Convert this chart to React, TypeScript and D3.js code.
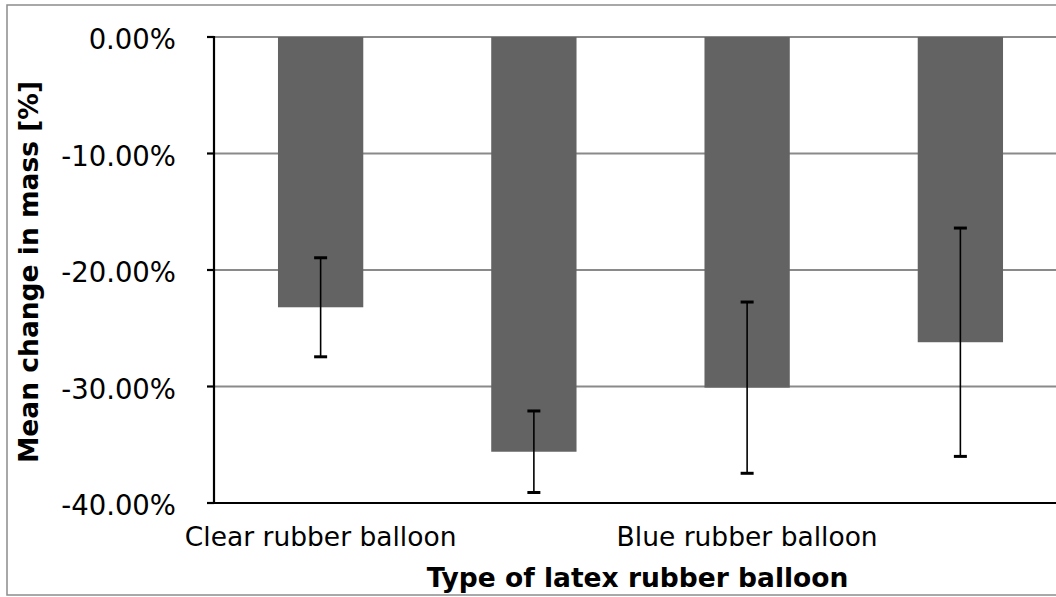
import React from "react";
import * as d3 from "d3";

const categories = ["Clear rubber balloon", "", "Blue rubber balloon", ""];
const meanChange = [-23.2, -35.6, -30.1, -26.2];
const errorAmount = [4.25, 3.5, 7.35, 9.8];
const yTicks = [0, -10, -20, -30, -40];
const yTitle = "Mean change in mass [%]";
const xTitle = "Type of latex rubber balloon";

const W = 1056;
const H = 597;
const FONT = "'DejaVu Sans', Verdana, sans-serif";
const FS = 26.5;

export default function App() {
  const left = 214;
  const right = 1067;
  const top = 37;
  const bottom = 503;
  const idx = categories.map((_, i) => i);
  const x = d3
    .scaleBand<number>()
    .domain(idx)
    .range([left, right])
    .paddingInner(0.6)
    .paddingOuter(0.3);
  const y = d3.scaleLinear().domain([-40, 0]).range([bottom, top]);
  const fmt = (v: number) => d3.format(".2f")(v).replace("\u2212", "-") + "%";
  const bw = x.bandwidth();
  const capW = 13;

  return (
    <svg
      width={W}
      height={H}
      style={{ position: "absolute", left: 0, top: 0, background: "#fff" }}
    >
      <rect x={7} y={5} width={1100} height={590} fill="#fff" stroke="#8c8c8c" strokeWidth={1.5} />
      {yTicks.map((t) => (
        <line key={"g" + t} x1={left} x2={right} y1={y(t)} y2={y(t)} stroke="#8a8a8a" strokeWidth={2} />
      ))}
      {meanChange.map((v, i) => (
        <rect key={"b" + i} x={x(i)} y={y(0)} width={bw} height={y(v) - y(0)} fill="#636363" />
      ))}
      {meanChange.map((v, i) => {
        const cx = (x(i) as number) + bw / 2;
        const y1 = y(v + errorAmount[i]);
        const y2 = y(v - errorAmount[i]);
        return (
          <g key={"e" + i}>
            <line x1={cx} x2={cx} y1={y1} y2={y2} stroke="#000" strokeWidth={1.6} />
            <line x1={cx - capW / 2} x2={cx + capW / 2} y1={y1} y2={y1} stroke="#000" strokeWidth={3} />
            <line x1={cx - capW / 2} x2={cx + capW / 2} y1={y2} y2={y2} stroke="#000" strokeWidth={3} />
          </g>
        );
      })}
      <line x1={left} x2={left} y1={top - 1} y2={bottom + 1} stroke="#000" strokeWidth={2.2} />
      <line x1={left - 7} x2={right} y1={bottom} y2={bottom} stroke="#000" strokeWidth={2.2} />
      {yTicks.map((t) => (
        <line key={"t" + t} x1={left - 7} x2={left} y1={y(t)} y2={y(t)} stroke="#000" strokeWidth={2.2} />
      ))}
      {yTicks.map((t) => (
        <text
          key={"l" + t}
          x={176}
          y={y(t)}
          dy="0.45em"
          textAnchor="end"
          fontFamily={FONT}
          fontSize={27.5}
          fill="#000"
        >
          {fmt(t)}
        </text>
      ))}
      {categories.map((c, i) =>
        c ? (
          <text
            key={"c" + i}
            x={(x(i) as number) + bw / 2}
            y={546}
            textAnchor="middle"
            fontFamily={FONT}
            fontSize={FS}
            fill="#000"
          >
            {c}
          </text>
        ) : null
      )}
      <text
        x={(left + right) / 2 - 3}
        y={587}
        textAnchor="middle"
        fontFamily={FONT}
        fontSize={FS}
        fontWeight="bold"
        fill="#000"
      >
        {xTitle}
      </text>
      <text
        transform={`translate(38, ${(top + bottom) / 2 + 2}) rotate(-90)`}
        textAnchor="middle"
        fontFamily={FONT}
        fontSize={FS}
        fontWeight="bold"
        fill="#000"
      >
        {yTitle}
      </text>
    </svg>
  );
}
